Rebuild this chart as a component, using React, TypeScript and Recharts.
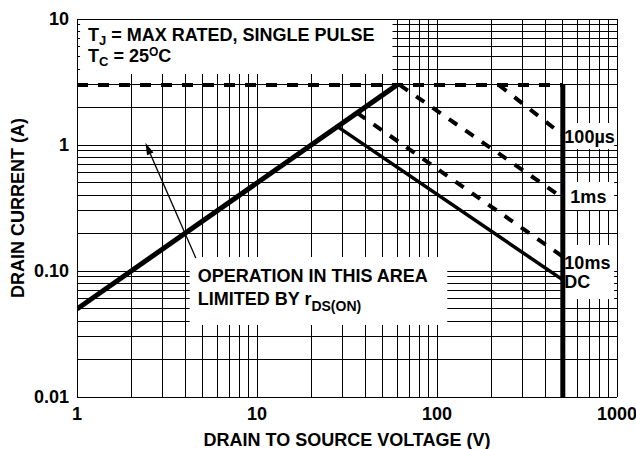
import React from "react";
import { ComposedChart, CartesianGrid, Line, ReferenceArea, ReferenceLine, XAxis, YAxis, Label } from "recharts";

// axis decades and tick labels
const xDecades = [1, 10, 100, 1000];
const xTickLabels = ["1", "10", "100", "1000"];
const yDecades = [0.01, 0.1, 1, 10];
const yTickLabels = ["0.01", "0.10", "1", "10"];
const minorSteps = [1, 2, 3, 4, 5, 6, 7, 8, 9];

// series (drain-source voltage V, drain current A)
const limitVoltage = [1, 500];
const limitCurrent = [3, 3];
const rdsVoltage = [1, 60];
const rdsCurrent = [0.05, 3];
const dcVoltage = [28, 500];
const dcCurrent = [1.4, 0.085];
const ms10Voltage = [36, 500];
const ms10Current = [1.8, 0.13];
const ms1Voltage = [62, 500];
const ms1Current = [3, 0.38];
const us100Voltage = [220, 500];
const us100Current = [3, 1.2];
const bvVoltage = [500, 500];
const bvCurrent = [3, 0.01];

const toPoints = (v: number[], i: number[]) => v.map((x, k) => ({ v: x, i: i[k] }));

const xTicks = [...xDecades.slice(0, -1).flatMap((d) => minorSteps.map((m) => d * m)), 1000];
const yTicks = [...yDecades.slice(0, -1).flatMap((d) => minorSteps.map((m) => d * m)), 10];

const FONT = "'Liberation Sans', Arial, Helvetica, sans-serif";
const textProps = { fontFamily: FONT, fontWeight: 700, fontSize: 18, fill: "#000" };

const lines = [
  { name: "limit", data: toPoints(limitVoltage, limitCurrent), width: 4, dash: "11 10" },
  { name: "rds", data: toPoints(rdsVoltage, rdsCurrent), width: 5, dash: undefined },
  { name: "dc", data: toPoints(dcVoltage, dcCurrent), width: 3.5, dash: undefined },
  { name: "10ms", data: toPoints(ms10Voltage, ms10Current), width: 4, dash: "10 10" },
  { name: "1ms", data: toPoints(ms1Voltage, ms1Current), width: 4, dash: "10 10" },
  { name: "100us", data: toPoints(us100Voltage, us100Current), width: 4, dash: "10 10" },
  { name: "bv", data: toPoints(bvVoltage, bvCurrent), width: 5, dash: undefined },
];

const Sub = ({ children, size = 13, dy = 4 }: any) => (
  <tspan fontSize={size} dy={dy}>{children}</tspan>
);

// text inside the white boxes, placed relative to the box
const boxText: Record<string, (x: number, y: number) => React.ReactNode> = {
  cond: (x, y) => (
    <g>
      <text x={x + 8} y={y + 21} {...textProps}>
        T<Sub>J</Sub><tspan dy={-4}> = MAX RATED, SINGLE PULSE</tspan>
      </text>
      <text x={x + 8} y={y + 42} {...textProps}>
        T<Sub>C</Sub><tspan dy={-4}> = 25</tspan>
        <tspan fontSize={12} dy={-6}>O</tspan>
        <tspan dy={6}>C</tspan>
      </text>
    </g>
  ),
  rds: (x, y) => (
    <g>
      <text x={x + 8} y={y + 25} {...textProps}>OPERATION IN THIS AREA</text>
      <text x={x + 8} y={y + 48} {...textProps}>
        LIMITED BY r<Sub size={14} dy={6}>DS(ON)</Sub>
      </text>
    </g>
  ),
  us100: (x, y) => (
    <text x={x} y={y + 20} {...textProps}>100µs</text>
  ),
  ms1: (x, y) => (
    <text x={x + 6} y={y + 21} {...textProps}>1ms</text>
  ),
  ms10: (x, y) => (
    <g>
      <text x={x} y={y + 24} {...textProps}>10ms</text>
      <text x={x} y={y + 43} {...textProps}>DC</text>
    </g>
  ),
};

const boxes = [
  { key: "cond", x1: 1.04, x2: 56.6, y1: 3.66, y2: 9.82 },
  { key: "rds", x1: 4.23, x2: 114, y1: 0.0373, y2: 0.129 },
  { key: "us100", x1: 510, x2: 964, y1: 0.93, y2: 1.495 },
  { key: "ms1", x1: 510, x2: 964, y1: 0.305, y2: 0.509 },
  { key: "ms10", x1: 510, x2: 964, y1: 0.06, y2: 0.161 },
];

const Arrow = (props: any) => {
  const { x1, y1, x2, y2 } = props;
  const a = Math.atan2(y2 - y1, x2 - x1);
  const len = 12;
  const hw = 3.5;
  const bx = x2 - len * Math.cos(a);
  const by = y2 - len * Math.sin(a);
  const px = -Math.sin(a) * hw;
  const py = Math.cos(a) * hw;
  return (
    <g>
      <line x1={x1} y1={y1} x2={bx} y2={by} stroke="#000" strokeWidth={1.3} />
      <polygon points={`${x2},${y2} ${bx + px},${by + py} ${bx - px},${by - py}`} fill="#000" />
    </g>
  );
};

const fmt = (decades: number[], labels: string[]) => (v: number) => {
  const k = decades.findIndex((d) => Math.abs(d - v) / d < 1e-9);
  return k >= 0 ? labels[k] : "";
};

export default function App() {
  return (
    <div style={{ position: "absolute", left: 0, top: 0, width: 636, height: 449, background: "#fff" }}>
      <ComposedChart width={636} height={449} margin={{ top: 19, right: 19, bottom: 0, left: 0 }}>
        <CartesianGrid stroke="#000" strokeWidth={1} shapeRendering="crispEdges" />
        <XAxis
          dataKey="v"
          type="number"
          scale="log"
          domain={[1, 1000]}
          ticks={xTicks}
          interval={0}
          allowDataOverflow
          tickFormatter={fmt(xDecades, xTickLabels)}
          tickLine={false}
          tickMargin={4}
          axisLine={{ stroke: "#000", shapeRendering: "crispEdges" }}
          tick={textProps}
          height={52}
        >
          <Label
            content={({ viewBox }: any) => (
              <text x={viewBox.x + viewBox.width / 2} y={viewBox.y + 49} textAnchor="middle" {...textProps}>
                DRAIN TO SOURCE VOLTAGE (V)
              </text>
            )}
          />
        </XAxis>
        <YAxis
          dataKey="i"
          type="number"
          scale="log"
          domain={[0.01, 10]}
          ticks={yTicks}
          interval={0}
          allowDataOverflow
          tickFormatter={fmt(yDecades, yTickLabels)}
          tickLine={false}
          axisLine={{ stroke: "#000", shapeRendering: "crispEdges" }}
          tick={textProps}
          width={77}
        >
          <Label
            content={({ viewBox }: any) => {
              const cy = viewBox.y + viewBox.height / 2;
              return (
                <text x={24} y={cy} transform={`rotate(-90 24 ${cy})`} textAnchor="middle" {...textProps}>
                  DRAIN CURRENT (A)
                </text>
              );
            }}
          />
        </YAxis>
        {boxes.map((b) => (
          <ReferenceArea
            key={b.key}
            x1={b.x1}
            x2={b.x2}
            y1={b.y1}
            y2={b.y2}
            fill="#fff"
            fillOpacity={1}
            stroke="none"
            ifOverflow="visible"
            label={({ viewBox }: any) => boxText[b.key](viewBox.x, viewBox.y)}
          />
        ))}
        <ReferenceLine
          segment={[{ x: 4.57, y: 0.127 }, { x: 2.4, y: 1.04 }]}
          shape={<Arrow />}
          ifOverflow="visible"
        />
        {lines.map((s) => (
          <Line
            key={s.name}
            data={s.data}
            dataKey="i"
            type="linear"
            stroke="#000"
            strokeWidth={s.width}
            strokeDasharray={s.dash}
            dot={false}
            activeDot={false}
            isAnimationActive={false}
          />
        ))}
      </ComposedChart>
    </div>
  );
}
